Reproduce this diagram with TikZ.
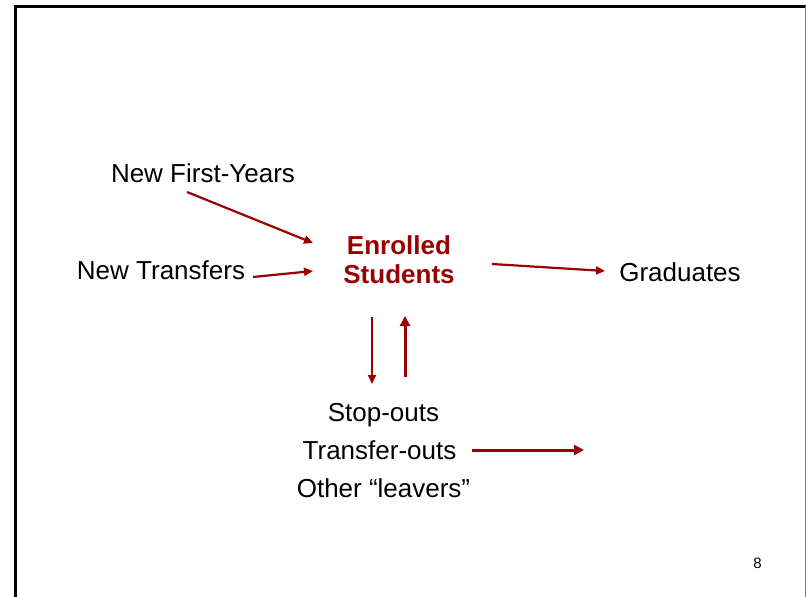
\documentclass[tikz,border=0pt]{standalone}
\usepackage{fontspec}
\setmainfont{Liberation Sans}
\usetikzlibrary{arrows.meta}
\definecolor{darkred}{HTML}{990000}
\tikzset{
  txt/.style={font=\fontsize{26}{29}\selectfont, inner sep=0pt, anchor=base},
  flow/.style={darkred, line width=2.2pt, -{Triangle[length=9pt,width=8pt]}},
  bigflow/.style={darkred, line width=3pt, -{Triangle[length=10pt,width=10pt]}}
}
\begin{document}
\begin{tikzpicture}[x=1pt,y=-1pt]
        \useasboundingbox (0,0) rectangle (807,597);

        % Draw the slide frame
        \draw[line width=3pt] (15.5,597) -- (15.5,6.3) -- (806,6.3);
        \draw[gray, line width=1pt] (805,6.3) -- (805,597);

        % Place the labels
        \node[txt] (firstyears) at (203,182) {New First-Years};
        \node[txt] (transfers) at (161,279) {New Transfers};
        \node[txt, font=\fontsize{26}{29}\selectfont\bfseries, text=darkred, align=center] (enrolled) at (399,283) {Enrolled\\Students};
        \node[txt] (graduates) at (680,281) {Graduates};
        \node[txt] (stopouts) at (383.5,421) {Stop-outs};
        \node[txt] (transferouts) at (379.5,459) {Transfer-outs};
        \node[txt] (leavers) at (383.5,497) {Other \textquotedblleft leavers\textquotedblright};
        \node[txt, font=\fontsize{15}{18}\selectfont] (pagenum) at (757.5,568) {8};

        % Ends of the arrows
        \coordinate (fy-s) at (187,192);
        \coordinate (fy-e) at (313,243);
        \coordinate (tr-s) at (253,277);
        \coordinate (tr-e) at (313,271);
        \coordinate (gr-s) at (492,264);
        \coordinate (gr-e) at (605,271);
        \coordinate (dn-s) at (372,317);
        \coordinate (dn-e) at (372,384);
        \coordinate (up-s) at (405,377);
        \coordinate (up-e) at (405,316);
        \coordinate (to-s) at (472,450);
        \coordinate (to-e) at (584,450);

        % Draw the arrows
        \draw[flow] (fy-s) -- (fy-e);
        \draw[flow] (tr-s) -- (tr-e);
        \draw[flow] (gr-s) -- (gr-e);
        \draw[flow, line width=1.8pt] (dn-s) -- (dn-e);
        \draw[bigflow] (up-s) -- (up-e);
        \draw[bigflow] (to-s) -- (to-e);
    \end{tikzpicture}
\end{document}
